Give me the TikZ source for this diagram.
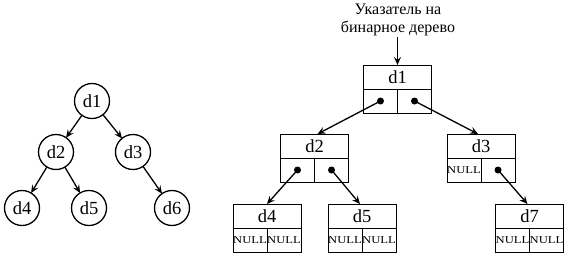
\documentclass[tikz,border=0pt]{standalone}
\usepackage{fontspec}
\setmainfont{Liberation Serif}
\usetikzlibrary{arrows.meta}
\begin{document}
\begin{tikzpicture}[x=1pt,y=-1pt,
  every node/.style={inner sep=0pt, outer sep=0pt},
  circ/.style={draw, circle, line width=1.3pt, minimum size=35pt, font=\fontsize{18.5}{18.5}\selectfont},
  head/.style={draw, rectangle, line width=1pt, minimum width=68pt, minimum height=24pt, font=\fontsize{18.5}{18.5}\selectfont},
  cell/.style={draw, rectangle, line width=1pt, minimum width=34pt, minimum height=24pt, font=\fontsize{10.5}{10.5}\selectfont},
  arr/.style={line width=1.3pt, -{Stealth[length=8pt,width=7pt,inset=3pt]}},
  dot/.style={circle, fill=black, minimum size=7pt}]
\useasboundingbox (0,0) rectangle (566,255);
\newcommand{\nul}{\scalebox{1.2}[1]{NULL}}
% left tree
\node[circ] (c1) at (92,101) {d1};
\node[circ] (c2) at (56,152) {d2};
\node[circ] (c3) at (133,152) {d3};
\node[circ] (c4) at (22,208) {d4};
\node[circ] (c5) at (89,208) {d5};
\node[circ] (c6) at (172,208) {d6};
\draw[arr] (c1) -- (c2);
\draw[arr] (c1) -- (c3);
\draw[arr] (c2) -- (c4);
\draw[arr] (c2) -- (c5);
\draw[arr] (c3) -- (c6);
% label
\node[align=center, font=\fontsize{16}{18.5}\selectfont] (lbl) at (398,20) {Указатель на\\бинарное дерево};
% right structure
\node[head] (h1) at (397.5,77) {d1};
\node[cell] (l1) at (380.5,101) {};
\node[cell] (r1) at (414.5,101) {};
\node[head] (h2) at (314.5,146) {d2};
\node[cell] (l2) at (297.5,170) {};
\node[cell] (r2) at (331.5,170) {};
\node[head] (h3) at (481,146) {d3};
\node[cell] (l3) at (464,170) {\nul};
\node[cell] (r3) at (498,170) {};
\node[head] (h4) at (267,216) {d4};
\node[cell] (l4) at (250,240) {\nul};
\node[cell] (r4) at (284,240) {\nul};
\node[head] (h5) at (362,216) {d5};
\node[cell] (l5) at (345,240) {\nul};
\node[cell] (r5) at (379,240) {\nul};
\node[head] (h7) at (529.5,216) {d7};
\node[cell] (l7) at (512.5,240) {\nul};
\node[cell] (r7) at (546.5,240) {\nul};
% dots
\node[dot] (p1l) at (l1.center) {};
\node[dot] (p1r) at (r1.center) {};
\node[dot] (p2l) at (l2.center) {};
\node[dot] (p2r) at (r2.center) {};
\node[dot] (p3r) at (r3.center) {};
% pointers
\coordinate (a) at (397.5,37);
\draw[arr] (a) -- (h1.north);
\draw[arr] (p1l.center) -- ([xshift=3pt]h2.north);
\draw[arr] (p1r.center) -- ([xshift=-3pt]h3.north);
\draw[arr] (p2l.center) -- (h4.north);
\draw[arr] (p2r.center) -- ([xshift=-2pt]h5.north);
\draw[arr] (p3r.center) -- ([xshift=-2pt]h7.north);
\end{tikzpicture}
\end{document}
